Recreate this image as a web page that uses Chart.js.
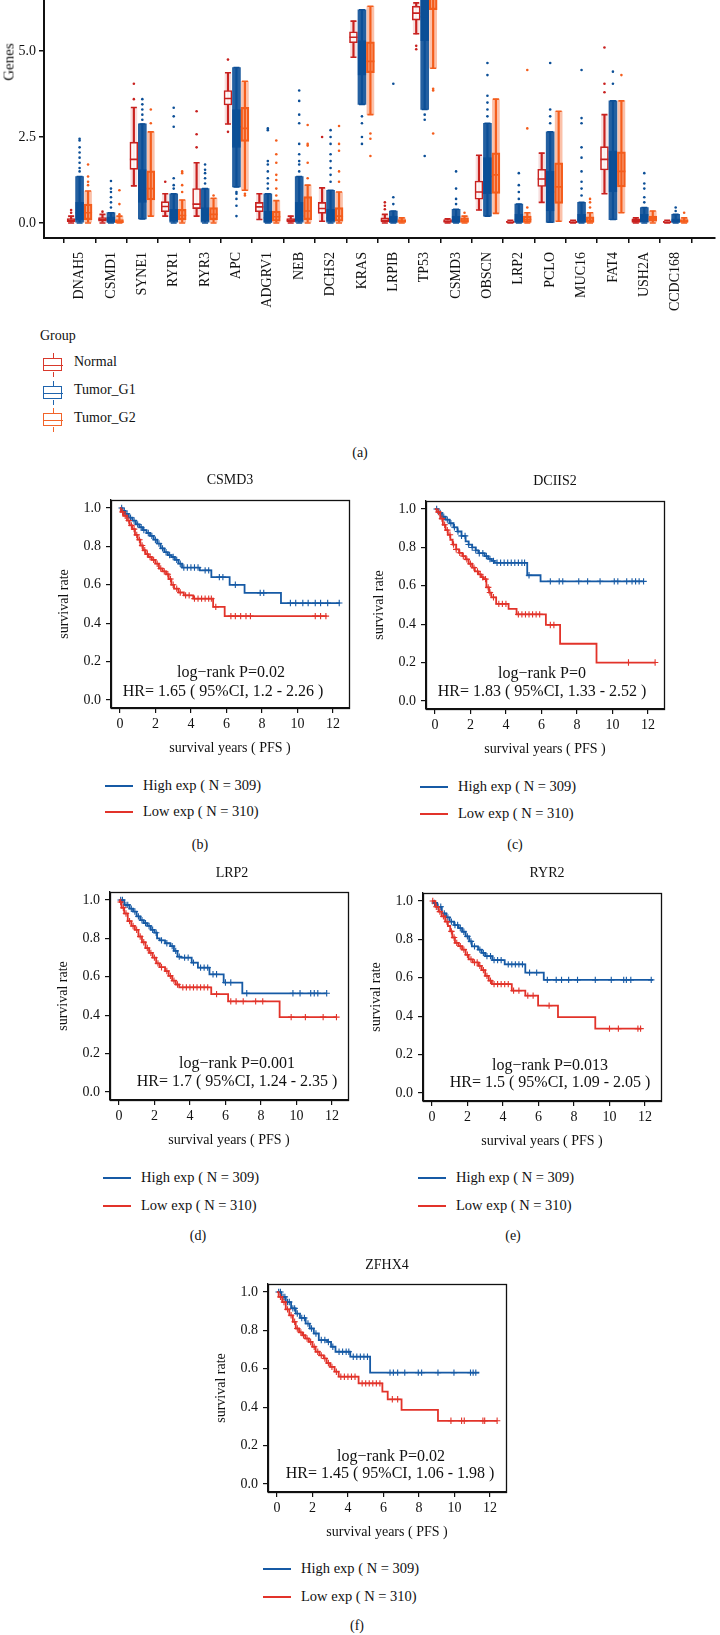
<!DOCTYPE html>
<html><head><meta charset="utf-8">
<script src="https://cdn.jsdelivr.net/npm/chart.js@4.4.1/dist/chart.umd.min.js"></script>
<style>
html,body{margin:0;padding:0;background:#fff;}
body{width:720px;height:1635px;position:relative;overflow:hidden;font-family:"Liberation Serif","DejaVu Serif",serif;color:#111;font-size:14px;}
.a{position:absolute;white-space:nowrap;}
.c{transform:translate(-50%,-50%);}
.ann{font-size:16px;}
.leg{font-size:14.5px;}
.lg{position:absolute;height:0;border-top:2px solid;}
canvas{position:absolute;}
.ico{position:absolute;width:20px;height:14px;}
.ico .b{position:absolute;left:0;top:0;width:17px;height:11px;border:1.5px solid;}
.ico .m{position:absolute;left:0;top:6.5px;width:20px;height:0;border-top:1.5px solid;}
.ico .s1{position:absolute;left:9.5px;top:-5px;height:5px;border-left:1.5px solid;}
.ico .s2{position:absolute;left:9.5px;top:14px;height:5px;border-left:1.5px solid;}
</style></head>
<body>
<canvas id="box" width="720" height="332" style="left:0;top:-12px"></canvas>
<div class="a c" style="left:9px;top:62px;transform:translate(-50%,-50%) rotate(-90deg);font-size:15px">Genes</div>

<div class="a" style="left:40px;top:328px">Group</div>
<div class="ico" style="left:43px;top:358px;color:#d8392c"><div class="s1"></div><div class="b"></div><div class="m"></div><div class="s2"></div></div>
<div class="a" style="left:74px;top:354px">Normal</div>
<div class="ico" style="left:43px;top:386px;color:#1f64ad"><div class="s1"></div><div class="b"></div><div class="m"></div><div class="s2"></div></div>
<div class="a" style="left:74px;top:382px">Tumor_G1</div>
<div class="ico" style="left:43px;top:413px;color:#f2642a"><div class="s1"></div><div class="b"></div><div class="m"></div><div class="s2"></div></div>
<div class="a" style="left:74px;top:410px">Tumor_G2</div>
<div class="a c" style="left:360px;top:453px">(a)</div>

<canvas id="kmb" width="308" height="272" style="left:51px;top:486px"></canvas>
<canvas id="kmc" width="308" height="272" style="left:366px;top:487px"></canvas>
<canvas id="kmd" width="308" height="272" style="left:50px;top:878px"></canvas>
<canvas id="kme" width="308" height="272" style="left:363px;top:879px"></canvas>
<canvas id="kmf" width="308" height="272" style="left:208px;top:1270px"></canvas>

<div id="txt"></div>

<script>
// ---------------- DATA: panel (a) ----------------
const genes = ["DNAH5","CSMD1","SYNE1","RYR1","RYR3","APC","ADGRV1","NEB","DCHS2","KRAS","LRPIB","TP53","CSMD3","OBSCN","LRP2","PCLO","MUC16","FAT4","USH2A","CCDC168"];
const yTickValues = [0, 2.5, 5.0];

const normalLo  = [0.00,0.00,1.08,0.20,0.20,2.88,0.10,0.00,0.05,4.82,0.00,5.50,0.00,0.38,0.00,0.60,0.00,0.85,0.00,0.00];
const normalQ1  = [0.04,0.05,1.56,0.33,0.42,3.43,0.33,0.03,0.28,5.24,0.03,5.90,0.02,0.69,0.00,1.06,0.00,1.54,0.02,0.00];
const normalMed = [0.08,0.10,1.85,0.48,0.55,3.62,0.47,0.08,0.42,5.40,0.08,6.10,0.05,0.90,0.02,1.28,0.02,1.85,0.07,0.02];
const normalQ3  = [0.13,0.16,2.35,0.62,1.00,3.85,0.60,0.13,0.60,5.56,0.15,6.30,0.10,1.22,0.05,1.56,0.05,2.22,0.12,0.05];
const normalHi  = [0.20,0.25,3.36,0.85,1.75,4.37,0.85,0.20,1.02,5.87,0.25,6.40,0.12,1.97,0.08,2.03,0.08,3.15,0.15,0.08];
const normalOut = [[0.30,0.38],[0.33],[3.60,4.05],[1.20],[2.20,2.58,3.25],[2.65,4.75],[],[],[2.50],[],[0.40,0.50,0.60],[5.05,5.15],[],[],[],[],[],[3.80,4.05,5.10],[],[]];

const g1Lo  = [0.00,0.00,0.12,0.00,0.00,1.05,0.00,0.00,0.00,3.45,0.00,3.30,0.00,0.20,0.00,0.02,0.00,0.10,0.00,0.00];
const g1Q1  = [0.08,0.02,0.60,0.05,0.05,2.20,0.02,0.05,0.05,4.30,0.02,5.30,0.02,0.85,0.02,0.35,0.02,0.90,0.03,0.02];
const g1Med = [0.30,0.08,1.00,0.18,0.20,2.80,0.15,0.20,0.15,4.80,0.08,6.00,0.08,1.35,0.10,0.90,0.10,1.50,0.12,0.06];
const g1Q3  = [0.60,0.18,1.55,0.40,0.45,3.30,0.35,0.60,0.40,5.30,0.20,6.60,0.20,1.90,0.25,1.50,0.25,2.10,0.25,0.12];
const g1Hi  = [1.35,0.30,2.88,0.85,1.00,4.52,0.85,1.35,0.95,6.20,0.35,7.30,0.40,2.90,0.55,2.65,0.60,3.55,0.45,0.25];
const g1Out = [[1.5,1.6,1.75,1.9,2.05,2.2,2.4,2.45],[0.45,0.6,0.75,0.9,1.0,1.22],[3.0,3.15,3.3,3.45,3.6],[1.0,1.1,1.3,2.8,3.1,3.35],[1.15,1.3,1.45,1.55,1.7],[0.2,0.5,0.7,0.85,0.9],[1.0,1.15,1.3,1.5,1.7,1.8,2.7,2.75],[1.5,1.7,1.8,2.0,2.3,2.9,3.15,3.55,3.85],[1.2,1.4,1.6,1.8,2.0,2.3,2.5,2.7],[2.3,2.5,2.9,3.1],[0.55,0.75,4.05],[1.95,3.0,3.15],[0.55,0.7,1.0,1.5],[3.1,3.3,3.5,3.7,4.3,4.65],[0.7,0.9,1.1,1.45],[2.9,3.1,3.3,4.65],[0.8,1.0,1.2,1.5,1.9,2.2,2.9,3.05,4.45],[4.05,4.4],[0.6,0.75,1.0,1.15,1.45],[0.35,0.45]];

const g2Lo  = [0.00,0.00,0.20,0.00,0.00,0.95,0.00,0.00,0.00,3.15,0.00,4.50,0.00,0.28,0.00,0.05,0.00,0.30,0.00,0.00];
const g2Q1  = [0.10,0.01,0.67,0.10,0.10,2.37,0.05,0.10,0.05,4.37,0.02,6.20,0.02,0.86,0.02,0.57,0.02,1.05,0.05,0.02];
const g2Med = [0.30,0.04,1.00,0.22,0.25,2.75,0.18,0.35,0.20,4.70,0.06,6.80,0.06,1.40,0.10,1.05,0.08,1.50,0.12,0.06];
const g2Q3  = [0.55,0.10,1.52,0.40,0.45,3.36,0.35,0.77,0.45,5.27,0.10,7.30,0.15,2.04,0.20,1.75,0.18,2.07,0.20,0.10];
const g2Hi  = [0.93,0.20,2.65,0.67,0.72,4.12,0.65,1.10,0.90,6.30,0.15,7.80,0.20,3.60,0.30,3.25,0.30,3.55,0.35,0.15];
const g2Out = [[1.1,1.2,1.35,1.7],[0.25,0.55,0.95],[2.9,3.3],[0.9,1.1,1.45,1.5],[0.8],[0.8,0.85],[0.8,1.0,1.25,1.4,1.75,2.0,2.4],[1.3,1.75,2.25,2.3,2.85],[1.2,1.5,2.1,2.3,2.82],[1.95,2.45,2.6],[],[2.6,3.85,3.9],[0.3],[],[0.45,2.75,4.45],[],[0.45,0.6,0.7],[4.3],[],[0.3]];

// ---------------- DATA: KM panels ----------------
const csmd3High = [[0,1],[0.15,0.985],[0.3,0.97],[0.5,0.95],[0.7,0.935],[0.9,0.915],[1.1,0.9],[1.3,0.885],[1.5,0.87],[1.7,0.855],[1.9,0.835],[2.1,0.815],[2.3,0.79],[2.5,0.77],[2.7,0.755],[2.9,0.745],[3.1,0.73],[3.3,0.71],[3.5,0.69],[4.5,0.675],[5.15,0.64],[6.18,0.6],[7.02,0.558],[9.07,0.505],[12.4,0.505]];
const csmd3HighCens = [0.1,0.25,0.4,0.6,0.8,1.0,1.2,1.35,1.6,1.8,2.0,2.2,2.4,2.6,2.8,3.0,3.2,3.4,3.6,3.8,4.0,4.2,4.4,4.8,5.0,5.6,5.8,6.5,7.9,8.1,9.6,9.9,10.3,10.6,11.0,11.3,11.7,12.35];
const csmd3Low = [[0,1],[0.05,0.98],[0.2,0.96],[0.4,0.935],[0.55,0.91],[0.7,0.89],[0.85,0.86],[1.0,0.835],[1.15,0.805],[1.3,0.78],[1.45,0.76],[1.6,0.745],[1.8,0.73],[2.0,0.71],[2.2,0.685],[2.4,0.67],[2.6,0.655],[2.75,0.63],[2.9,0.6],[3.05,0.58],[3.3,0.56],[3.6,0.545],[4.13,0.528],[5.25,0.485],[5.9,0.437],[11.65,0.437]];
const csmd3LowCens = [0.15,0.3,0.5,0.65,0.8,0.95,1.1,1.25,1.4,1.55,1.7,1.9,2.1,2.3,2.5,2.7,2.85,3.0,3.2,3.4,3.7,3.9,4.2,4.4,4.6,4.8,5.0,5.15,5.4,6.25,6.5,6.8,7.1,7.35,11.0,11.3,11.6];

const dchs2High = [[0,1],[0.2,0.98],[0.4,0.96],[0.6,0.945],[0.82,0.926],[1.05,0.905],[1.27,0.883],[1.5,0.86],[1.73,0.832],[1.9,0.815],[2.1,0.8],[2.3,0.785],[2.45,0.77],[2.8,0.755],[3.0,0.74],[3.2,0.73],[3.36,0.72],[5.2,0.655],[5.95,0.623],[11.75,0.623]];
const dchs2HighCens = [0.1,0.3,0.5,0.7,0.9,1.1,1.3,1.5,1.7,1.9,2.1,2.3,2.5,2.7,2.9,3.1,3.3,3.5,3.7,3.9,4.1,4.3,4.5,4.7,4.9,5.05,5.3,6.5,7.0,7.2,8.1,8.6,9.3,10.1,10.3,10.8,11.1,11.3,11.5,11.75];
const dchs2Low = [[0,1],[0.1,0.985],[0.3,0.95],[0.45,0.918],[0.6,0.89],[0.73,0.866],[0.87,0.84],[1.0,0.815],[1.2,0.79],[1.36,0.772],[1.55,0.755],[1.73,0.738],[1.9,0.715],[2.1,0.695],[2.25,0.675],[2.45,0.66],[2.6,0.645],[2.73,0.635],[2.9,0.592],[3.05,0.565],[3.18,0.54],[3.45,0.506],[4.15,0.48],[4.6,0.451],[6.25,0.396],[7.05,0.298],[9.1,0.2],[12.4,0.2]];
const dchs2LowCens = [0.2,0.4,0.55,0.7,0.85,1.05,1.2,1.4,1.6,1.8,2.0,2.2,2.4,2.55,2.7,2.85,3.0,3.1,3.3,3.6,3.8,4.0,4.7,4.9,5.1,5.3,5.5,5.7,5.9,6.5,6.7,10.9,12.4];

const lrp2High = [[0,1],[0.3,0.975],[0.6,0.955],[0.8,0.94],[1.0,0.915],[1.2,0.895],[1.4,0.88],[1.6,0.865],[1.8,0.845],[2.0,0.83],[2.15,0.8],[2.3,0.79],[2.6,0.775],[2.9,0.76],[3.1,0.735],[3.3,0.705],[3.5,0.7],[4.1,0.674],[4.45,0.648],[5.1,0.613],[5.9,0.57],[6.95,0.514],[11.7,0.514]];
const lrp2HighCens = [0.1,0.2,0.4,0.5,0.7,0.9,1.1,1.3,1.5,1.7,1.9,2.1,2.4,2.7,3.0,3.2,3.4,3.7,3.9,4.2,4.6,4.8,5.0,5.3,5.5,6.0,6.3,7.2,9.8,10.2,10.8,11.0,11.2,11.7];
const lrp2Low = [[0,1],[0.05,0.99],[0.15,0.96],[0.3,0.93],[0.5,0.89],[0.7,0.865],[0.9,0.845],[1.1,0.81],[1.3,0.78],[1.5,0.75],[1.7,0.725],[1.9,0.7],[2.1,0.67],[2.3,0.65],[2.6,0.63],[2.8,0.605],[3.0,0.58],[3.2,0.56],[3.4,0.545],[5.2,0.51],[6.15,0.472],[9.05,0.39],[12.25,0.39]];
const lrp2LowCens = [0.1,0.25,0.4,0.6,0.8,1.0,1.2,1.4,1.6,1.8,2.0,2.2,2.4,2.7,2.9,3.1,3.3,3.6,3.8,4.0,4.2,4.4,4.6,4.8,5.0,5.5,6.3,6.6,7.0,7.7,8.1,9.7,10.5,11.5,12.25];

const ryr2High = [[0,1],[0.1,0.99],[0.3,0.97],[0.56,0.936],[0.8,0.915],[1.0,0.893],[1.25,0.875],[1.5,0.859],[1.7,0.84],[1.9,0.816],[2.1,0.79],[2.25,0.764],[2.6,0.747],[2.8,0.73],[3.0,0.713],[3.4,0.692],[4.1,0.67],[5.26,0.627],[6.3,0.589],[12.45,0.589]];
const ryr2HighCens = [0.15,0.35,0.5,0.7,0.9,1.1,1.3,1.45,1.6,1.8,2.0,2.2,2.4,2.7,2.9,3.1,3.3,3.5,3.7,3.9,4.3,4.5,4.7,4.9,5.1,5.5,5.9,6.5,7.0,7.3,7.7,8.2,9.2,10.1,10.8,10.95,11.2,12.35];
const ryr2Low = [[0,1],[0.2,0.97],[0.38,0.945],[0.55,0.92],[0.75,0.893],[0.9,0.87],[1.03,0.842],[1.15,0.81],[1.3,0.782],[1.5,0.765],[1.7,0.747],[1.9,0.72],[2.07,0.696],[2.3,0.68],[2.63,0.662],[2.8,0.64],[3.0,0.61],[3.2,0.585],[3.38,0.567],[4.5,0.533],[5.26,0.507],[5.98,0.455],[7.1,0.395],[9.2,0.335],[11.8,0.335]];
const ryr2LowCens = [0.05,0.25,0.45,0.65,0.85,1.1,1.25,1.4,1.6,1.8,2.0,2.2,2.4,2.55,2.7,2.9,3.1,3.3,3.5,3.7,3.9,4.1,4.3,4.6,4.9,5.4,5.7,6.6,10.0,10.5,11.6,11.75];

const zfhx4High = [[0,1],[0.25,0.975],[0.5,0.948],[0.8,0.915],[1.06,0.888],[1.3,0.865],[1.62,0.836],[1.85,0.81],[2.08,0.784],[2.36,0.75],[2.83,0.74],[3.05,0.715],[3.3,0.689],[4.13,0.663],[5.25,0.58],[11.4,0.58]];
const zfhx4HighCens = [0.1,0.2,0.35,0.45,0.6,0.7,0.9,1.0,1.15,1.4,1.55,1.75,1.95,2.2,2.5,2.7,2.9,3.15,3.5,3.7,3.9,4.05,4.3,4.5,4.7,4.9,5.1,6.37,6.56,6.8,7.2,7.96,8.15,9.07,9.97,10.9,11.05,11.2];
const zfhx4Low = [[0,1],[0.1,0.975],[0.3,0.948],[0.5,0.91],[0.7,0.879],[0.9,0.845],[1.06,0.81],[1.25,0.79],[1.43,0.775],[1.6,0.758],[1.8,0.74],[2.0,0.715],[2.18,0.689],[2.4,0.67],[2.64,0.654],[2.8,0.63],[3.0,0.61],[3.25,0.585],[3.48,0.559],[4.6,0.524],[5.94,0.481],[6.24,0.441],[7.02,0.386],[9.07,0.329],[12.4,0.329]];
const zfhx4LowCens = [0.2,0.4,0.6,0.8,1.0,1.15,1.35,1.5,1.7,1.9,2.1,2.3,2.5,2.7,2.9,3.1,3.35,3.6,3.8,4.0,4.2,4.4,4.8,5.0,5.2,5.4,5.6,5.8,6.5,6.8,9.8,10.4,10.55,11.6,11.7,12.4];

const kmXTicks = [0,2,4,6,8,10,12];
const kmYTicks = [0,0.2,0.4,0.6,0.8,1.0];

// ---------------- RENDER ----------------
const FONT = '"Liberation Serif","DejaVu Serif",serif';
Chart.defaults.font.family = FONT;
Chart.defaults.font.size = 14;
Chart.defaults.color = '#111';
const INK = '#111';

const C_N = '#c8211f', C_G1 = '#0c4f97', C_G2 = '#f45d1c';

function groupSets(lo,q1,med,q3,hi,out,off,color,cloud,boxFill,cloudW,base){
  const at = (arr)=>genes.map((g,i)=>({x:i+off,y:arr[i]}));
  const outPts = [];
  out.forEach((vals,i)=>vals.forEach(v=>outPts.push({x:i+off,y:v})));
  return [
    {type:'bar', data: genes.map((g,i)=>({x:i+off,y:[lo[i],hi[i]]})), backgroundColor: cloud, borderWidth:0, barThickness: cloudW, grouped:false, order: base+6},
    {type:'bar', data: genes.map((g,i)=>({x:i+off,y:[lo[i],hi[i]]})), backgroundColor: color, borderWidth:0, barThickness: 1.5, grouped:false, order: base+5},
    {type:'bar', data: genes.map((g,i)=>({x:i+off,y:[q1[i],q3[i]]})), backgroundColor: boxFill, borderColor: color, borderWidth:1.6, borderSkipped:false, barThickness: 8, grouped:false, order: base+4},
    {type:'scatter', data: at(med), pointStyle:'line', pointRadius:4, borderColor: color, borderWidth:1.6, order: base+3},
    {type:'scatter', data: at(lo).concat(at(hi)), pointStyle:'line', pointRadius:3, borderColor: color, borderWidth:1.6, order: base+2},
    {type:'scatter', data: outPts, pointStyle:'circle', pointRadius:1.3, backgroundColor: color, borderWidth:0, order: base+1}
  ];
}

new Chart(document.getElementById('box'), {
  type:'bar',
  data:{ datasets: [
    ...groupSets(g2Lo,g2Q1,g2Med,g2Q3,g2Hi,g2Out, 0.27, C_G2,'rgba(244,93,28,0.38)','rgba(244,93,28,0.28)',7, 0),
    ...groupSets(g1Lo,g1Q1,g1Med,g1Q3,g1Hi,g1Out, 0, C_G1,'rgba(12,79,151,0.9)','rgba(12,79,151,0.95)',8, 10),
    ...groupSets(normalLo,normalQ1,normalMed,normalQ3,normalHi,normalOut, -0.27, C_N,'rgba(200,33,31,0.15)','rgba(255,255,255,0.92)',6, 20)
  ]},
  options:{
    responsive:false, animation:false, devicePixelRatio:1,
    layout:{padding:{top:12,left:0,right:0,bottom:0}},
    plugins:{legend:{display:false}, tooltip:{enabled:false}},
    scales:{
      x:{ type:'linear', min:-0.6, max:19.7,
        afterBuildTicks: s=>{ s.ticks = genes.map((g,i)=>({value:i})); },
        afterFit: s=>{ s.height = 82; },
        ticks:{ callback: v=>genes[v], minRotation:90, maxRotation:90, autoSkip:false, padding:9, color:INK, font:{size:14} },
        grid:{ display:true, drawOnChartArea:false, drawTicks:true, tickLength:5, color:INK, lineWidth:1.5 },
        border:{ display:true, color:INK, width:2 }
      },
      y:{ type:'linear', min:-0.436, max:6.483,
        afterBuildTicks: s=>{ s.ticks = yTickValues.map(v=>({value:v})); },
        afterFit: s=>{ s.width = 44; },
        ticks:{ callback: v=>v.toFixed(1), padding:3, color:INK, font:{size:14} },
        grid:{ display:true, drawOnChartArea:false, drawTicks:true, tickLength:5, color:INK, lineWidth:1.5 },
        border:{ display:true, color:INK, width:2 }
      }
    }
  }
});

const C_HI = '#165aa5', C_LO = '#e2332a';
const framePlugin = { id:'frame', afterDraw(chart){ const a=chart.chartArea, c=chart.ctx; c.save(); c.strokeStyle=INK; c.lineWidth=1.3; c.strokeRect(Math.round(a.left)+0.5, Math.round(a.top)+0.5, Math.round(a.right-a.left), Math.round(a.bottom-a.top)); c.restore(); } };

function survAt(curve,t){ let s=curve[0][1]; for(const [x,y] of curve){ if(x<=t) s=y; else break; } return s; }

function km(id, high, highCens, low, lowCens){
  const pts = c=>c.map(([x,y])=>({x,y}));
  const cens = (curve,ts)=>ts.map(t=>({x:t,y:survAt(curve,t)}));
  new Chart(document.getElementById(id), {
    type:'line',
    data:{ datasets:[
      {data: pts(high), stepped:true, borderColor:C_HI, borderWidth:1.8, pointRadius:0, fill:false, order:4},
      {type:'scatter', data: cens(high,highCens), pointStyle:'cross', pointRadius:3.2, borderColor:C_HI, borderWidth:1.1, order:3},
      {data: pts(low), stepped:true, borderColor:C_LO, borderWidth:1.8, pointRadius:0, fill:false, order:2},
      {type:'scatter', data: cens(low,lowCens), pointStyle:'cross', pointRadius:3.2, borderColor:C_LO, borderWidth:1.1, order:1}
    ]},
    options:{
      responsive:false, animation:false, devicePixelRatio:1,
      layout:{padding:{top:14,right:10,left:0,bottom:0}},
      plugins:{legend:{display:false}, tooltip:{enabled:false}},
      scales:{
        x:{ type:'linear', min:-0.5, max:12.9,
          afterBuildTicks: s=>{ s.ticks = kmXTicks.map(v=>({value:v})); },
          afterFit: s=>{ s.height = 50; },
          ticks:{ maxRotation:0, padding:3, color:INK, font:{size:14} },
          grid:{ display:true, drawOnChartArea:false, tickLength:5, color:INK, lineWidth:1.2 },
          border:{ display:true, color:INK, width:1.3 },
          title:{ display:true, text:'survival years ( PFS )', color:INK, font:{size:14}, padding:{top:0,bottom:1.5} }
        },
        y:{ type:'linear', min:-0.042, max:1.042,
          afterBuildTicks: s=>{ s.ticks = kmYTicks.map(v=>({value:v})); },
          afterFit: s=>{ s.width = 60; },
          ticks:{ callback: v=>v.toFixed(1), padding:5, color:INK, font:{size:14} },
          grid:{ display:true, drawOnChartArea:false, tickLength:5, color:INK, lineWidth:1.2 },
          border:{ display:true, color:INK, width:1.3 },
          title:{ display:true, text:'survival rate', color:INK, font:{size:14}, padding:{top:4.6,bottom:0} }
        }
      }
    },
    plugins:[framePlugin]
  });
}

km('kmb', csmd3High, csmd3HighCens, csmd3Low, csmd3LowCens);
km('kmc', dchs2High, dchs2HighCens, dchs2Low, dchs2LowCens);
km('kmd', lrp2High, lrp2HighCens, lrp2Low, lrp2LowCens);
km('kme', ryr2High, ryr2HighCens, ryr2Low, ryr2LowCens);
km('kmf', zfhx4High, zfhx4HighCens, zfhx4Low, zfhx4LowCens);

// ---------------- text labels ----------------
const panels = [
  {title:'CSMD3', tx:230, ty:480, p:'log\u2212rank P=0.02', px:231, py:672, hr:'HR= 1.65 ( 95%CI, 1.2 - 2.26 )', hx:223, hy:691, lx:105, ly1:786, ly2:812, cap:'(b)', cx:200, cy:845},
  {title:'DCIIS2', tx:555, ty:481, p:'log\u2212rank P=0', px:542, py:673, hr:'HR= 1.83 ( 95%CI, 1.33 - 2.52 )', hx:542, hy:691, lx:420, ly1:787, ly2:814, cap:'(c)', cx:515, cy:845},
  {title:'LRP2', tx:232, ty:873, p:'log\u2212rank P=0.001', px:237, py:1063, hr:'HR= 1.7 ( 95%CI, 1.24 - 2.35 )', hx:237, hy:1081, lx:103, ly1:1178, ly2:1206, cap:'(d)', cx:198, cy:1236},
  {title:'RYR2', tx:547, ty:873, p:'log\u2212rank P=0.013', px:550, py:1065, hr:'HR= 1.5 ( 95%CI, 1.09 - 2.05 )', hx:550, hy:1082, lx:418, ly1:1178, ly2:1206, cap:'(e)', cx:513, cy:1236},
  {title:'ZFHX4', tx:387, ty:1265, p:'log\u2212rank P=0.02', px:391, py:1456, hr:'HR= 1.45 ( 95%CI, 1.06 - 1.98 )', hx:390, hy:1473, lx:263, ly1:1569, ly2:1597, cap:'(f)', cx:357, cy:1626}
];
const highLabel = 'High exp ( N = 309)', lowLabel = 'Low exp ( N = 310)';
let h = '';
for (const p of panels){
  h += `<div class="a c" style="left:${p.tx}px;top:${p.ty}px">${p.title}</div>`;
  h += `<div class="a c ann" style="left:${p.px}px;top:${p.py}px">${p.p}</div>`;
  h += `<div class="a c ann" style="left:${p.hx}px;top:${p.hy}px">${p.hr}</div>`;
  h += `<div class="lg" style="left:${p.lx}px;top:${p.ly1-1}px;width:28px;color:${C_HI}"></div>`;
  h += `<div class="a leg" style="left:${p.lx+38}px;top:${p.ly1-9}px">${highLabel}</div>`;
  h += `<div class="lg" style="left:${p.lx}px;top:${p.ly2-1}px;width:28px;color:${C_LO}"></div>`;
  h += `<div class="a leg" style="left:${p.lx+38}px;top:${p.ly2-9}px">${lowLabel}</div>`;
  h += `<div class="a c" style="left:${p.cx}px;top:${p.cy}px">${p.cap}</div>`;
}
document.getElementById('txt').innerHTML = h;
</script>
</body></html>
